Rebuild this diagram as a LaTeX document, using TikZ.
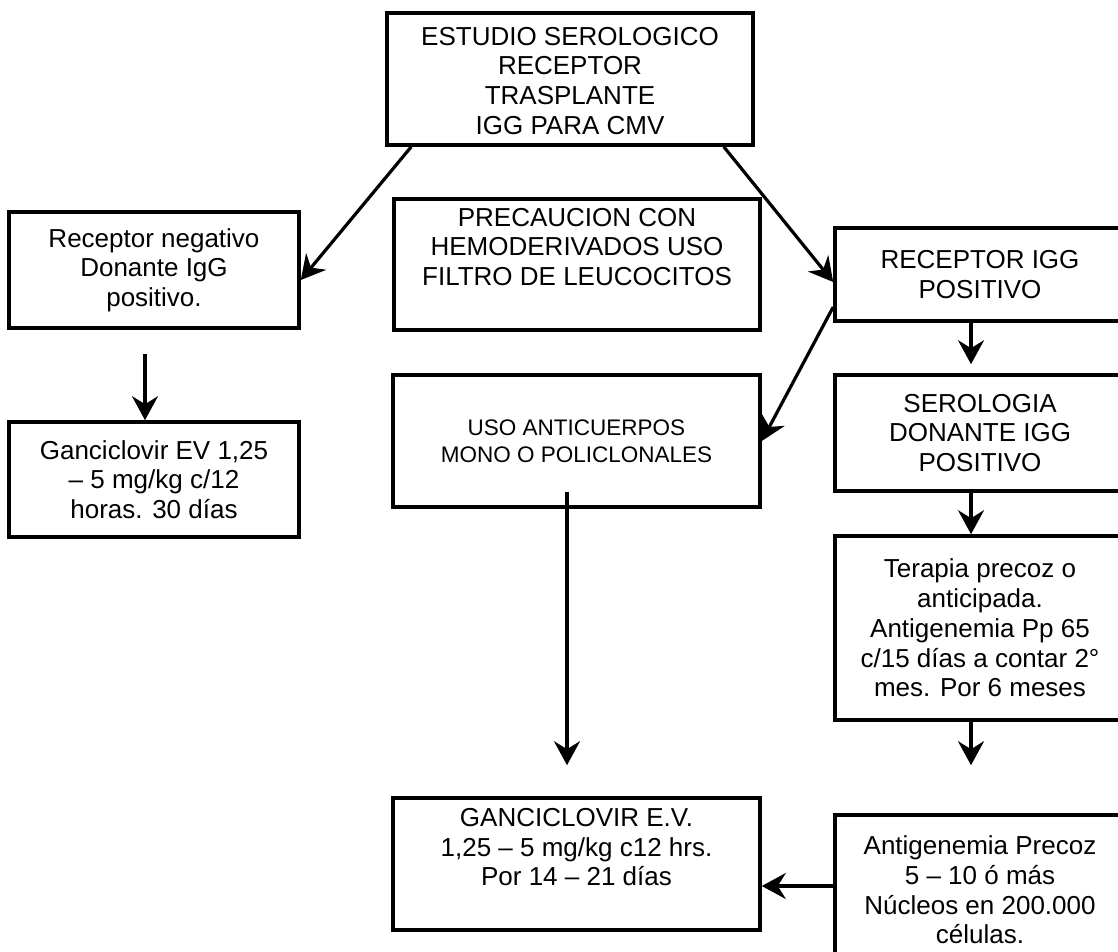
\documentclass[tikz,border=0pt]{standalone}
\usepackage{fontspec}
\setmainfont{Liberation Sans}
\usetikzlibrary{arrows.meta}
\begin{document}
\begin{tikzpicture}[x=1pt,y=-1pt,
  box/.style={draw, line width=3.6pt, align=center, inner sep=0pt,
    font=\fontsize{26}{29.7}\selectfont},
  smallbox/.style={box, font=\fontsize{22.5}{27.5}\selectfont},
  arr/.style={line width=3.2pt, -{Stealth[length=24pt,width=26pt,inset=8pt]}}]
\useasboundingbox[fill=white] (0,0) rectangle (1118,951);

\node[box, minimum width=366pt, minimum height=132pt] (top) at (570,79)
  {\\[-8pt]ESTUDIO SEROLOGICO\\RECEPTOR\\TRASPLANTE\\IGG PARA CMV};
\node[box, minimum width=290pt, minimum height=116pt] (neg) at (154,270)
  {Receptor negativo\\Donante IgG\\positivo.};
\node[box, minimum width=366pt, minimum height=131pt] (prec) at (577,264.5)
  {PRECAUCION CON\\HEMODERIVADOS USO\\FILTRO DE LEUCOCITOS\\[6pt]};
\node[box, minimum width=290pt, minimum height=93pt] (recpos) at (980,274.5)
  {RECEPTOR IGG\\POSITIVO};
\node[box, minimum width=290pt, minimum height=115pt] (gan1) at (154,479.5)
  {Ganciclovir EV 1,25\\– 5 mg/kg c/12\\horas. 30 días};
\node[smallbox, minimum width=367pt, minimum height=132pt] (uso) at (576.5,441)
  {USO ANTICUERPOS\\MONO O POLICLONALES};
\node[box, minimum width=290pt, minimum height=116pt] (sero) at (980,433)
  {SEROLOGIA\\DONANTE IGG\\POSITIVO};
\node[box, minimum width=290pt, minimum height=184pt] (tera) at (980,628)
  {Terapia precoz o\\anticipada.\\Antigenemia Pp 65\\c/15 días a contar 2°\\mes. Por 6 meses};
\node[box, minimum width=367pt, minimum height=132pt] (gan2) at (576.5,864)
  {GANCICLOVIR E.V.\\1,25 – 5 mg/kg c12 hrs.\\Por 14 – 21 días\\[4pt]};
\node[box, minimum width=290pt, minimum height=150pt] (anti) at (980,890)
  {Antigenemia Precoz\\5 – 10 ó más\\Núcleos en 200.000\\células.};

\draw[arr] ([xshift=26pt]top.south west) -- ([yshift=-10pt]neg.east);
\draw[arr] ([xshift=-31pt]top.south east) -- ([yshift=-7.5pt]recpos.west);
\draw[arr] ([yshift=-32.5pt]recpos.west) -- (uso.east);
\draw[arr] ([xshift=-9pt,yshift=-24pt]neg.south) -- ([xshift=-9pt]gan1.north);
\draw[arr] ([xshift=-9pt]recpos.south) -- ([xshift=-9pt,yshift=9pt]sero.north);
\draw[arr] ([xshift=-9pt]sero.south) -- ([xshift=-9pt]tera.north);
\draw[arr] ([xshift=-9pt]tera.south) -- ([xshift=-9pt,yshift=48pt]anti.north);
\draw[arr] ([xshift=-9.5pt,yshift=17pt]uso.south) -- ([xshift=-9.5pt,yshift=31pt]gan2.north);
\draw[arr] ([yshift=4pt]anti.west) -- ([yshift=-22pt]gan2.east);
\end{tikzpicture}
\end{document}
